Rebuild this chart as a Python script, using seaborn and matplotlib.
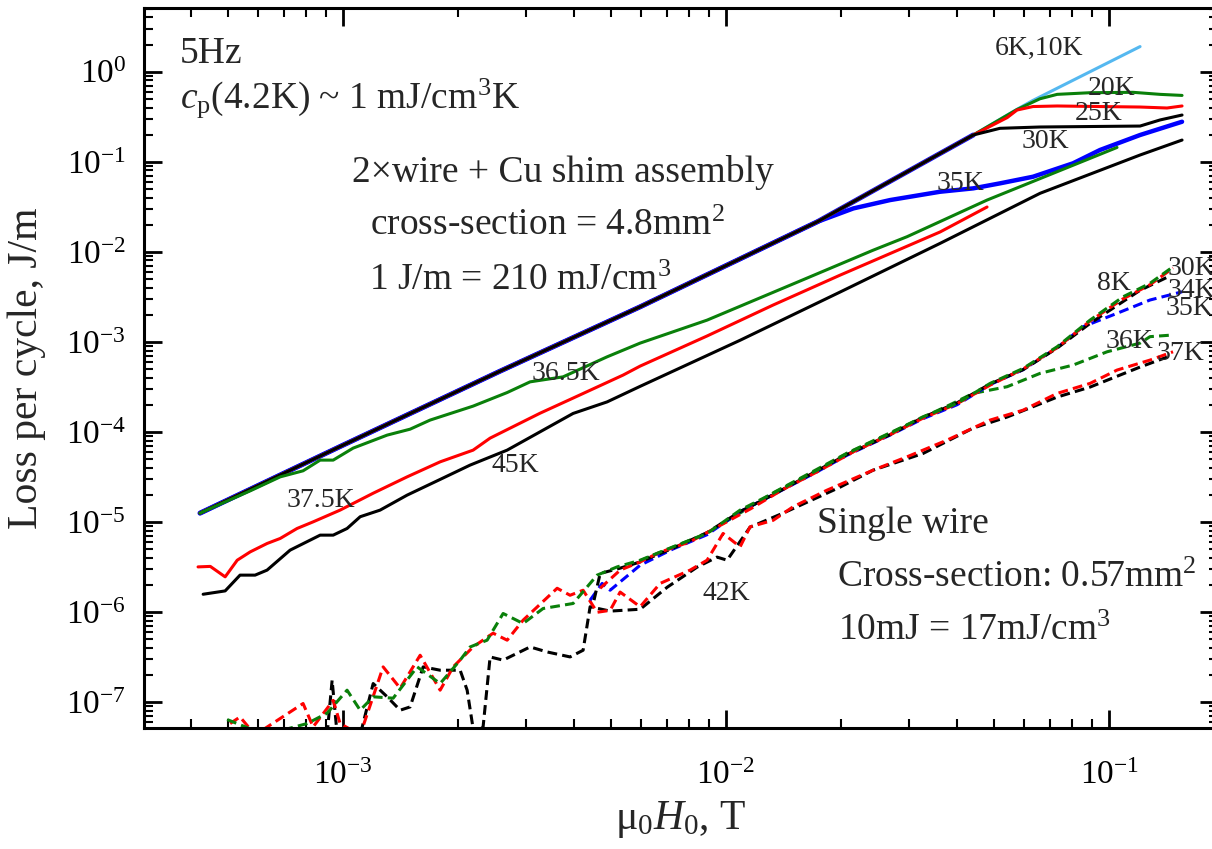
import matplotlib
matplotlib.use('Agg')
import matplotlib.pyplot as plt
import seaborn as sns
import numpy as np
from matplotlib.ticker import LogLocator, NullFormatter

# ---- data (x: mu0*H0 in T, y: loss per cycle in J/m) ----

# common initial branch shared by the low-temperature assembly curves
env_x = [4.23e-4, 1.0e-3, 2.57e-3, 5.97e-3, 1.73e-2, 4.42e-2]
env_y = [1.25e-5, 7.12e-5, 4.72e-4, 2.45e-3, 2.15e-2, 0.198]

# tails after leaving the common branch
k10_x = [5.75e-2, 6.33e-2, 0.1205]
k10_y = [0.382, 0.48, 1.90]
k20_x = [5.75e-2, 6.6e-2, 7.32e-2, 8.92e-2, 0.1155, 0.1359, 0.1551]
k20_y = [0.38, 0.50, 0.56, 0.584, 0.59, 0.56, 0.545]
k25_x = [5.42e-2, 5.75e-2, 6.33e-2, 7.32e-2, 9.47e-2, 0.1205, 0.1417, 0.1551]
k25_y = [0.309, 0.375, 0.41, 0.416, 0.41, 0.405, 0.395, 0.416]
k30_x = [5.19e-2, 6.6e-2, 0.1205, 0.1359, 0.1551]
k30_y = [0.235, 0.243, 0.249, 0.291, 0.330]
k35_x = [2.15e-2, 2.68e-2, 3.62e-2, 4.42e-2, 5.19e-2, 6.33e-2, 8.05e-2, 9.47e-2, 0.1205, 0.1551]
k35_y = [3.03e-2, 3.75e-2, 4.64e-2, 5.06e-2, 5.75e-2, 6.81e-2, 9.6e-2, 0.135, 0.198, 0.278]

k365_x = [4.23e-4, 5.72e-4, 6.85e-4, 7.86e-4, 8.71e-4, 9.42e-4, 1.062e-3, 1.303e-3, 1.496e-3,
          1.687e-3, 2.185e-3, 2.681e-3, 3.078e-3, 3.753e-3, 4.891e-3, 5.965e-3, 8.92e-3,
          1.627e-2, 2.42e-2, 2.969e-2, 4.802e-2, 0.1049]
k365_y = [1.25e-5, 2.21e-5, 3.16e-5, 3.69e-5, 4.85e-5, 4.85e-5, 6.59e-5, 9.19e-5, 1.07e-4,
          1.35e-4, 1.93e-4, 2.73e-4, 3.59e-4, 4.08e-4, 6.81e-4, 9.67e-4, 1.74e-3,
          5.1e-3, 1.04e-2, 1.47e-2, 3.75e-2, 0.144]

k375_x = [4.18e-4, 4.5e-4, 4.92e-4, 5.29e-4, 5.72e-4, 6.33e-4, 6.85e-4, 7.58e-4, 8.35e-4,
          9.82e-4, 1.198e-3, 1.469e-3, 1.792e-3, 2.185e-3, 2.42e-3, 3.268e-3, 3.986e-3,
          5.385e-3, 5.965e-3, 8.92e-3, 1.327e-2, 1.985e-2, 3.622e-2, 4.802e-2]
k375_y = [3.16e-6, 3.2e-6, 2.45e-6, 3.75e-6, 4.64e-6, 5.75e-6, 6.54e-6, 8.44e-6, 1.0e-5,
          1.35e-5, 2.08e-5, 3.16e-5, 4.64e-5, 6.26e-5, 8.51e-5, 1.61e-4, 2.37e-4,
          4.27e-4, 5.37e-4, 1.16e-3, 2.56e-3, 5.5e-3, 1.66e-2, 3.14e-2]

k45_x = [4.31e-4, 4.92e-4, 5.38e-4, 5.89e-4, 6.33e-4, 7.27e-4, 8.71e-4, 9.42e-4, 1.024e-3,
         1.108e-3, 1.249e-3, 1.469e-3, 1.792e-3, 2.146e-3, 2.681e-3, 3.268e-3, 3.986e-3,
         4.891e-3, 5.965e-3, 1.088e-2, 1.985e-2, 3.622e-2, 6.606e-2, 0.1205, 0.1551]
k45_y = [1.57e-6, 1.71e-6, 2.56e-6, 2.56e-6, 2.91e-6, 4.85e-6, 7.12e-6, 7.12e-6, 8.44e-6,
         1.14e-5, 1.35e-5, 1.98e-5, 2.96e-5, 4.27e-5, 6.26e-5, 1.0e-4, 1.6e-4,
         2.15e-4, 3.2e-4, 1.04e-3, 3.57e-3, 1.24e-2, 4.46e-2, 0.1187, 0.174]

# single wire (dashed)
w8_x = [4.98e-4, 6.26e-4, 8.05e-4, 9.08e-4, 1.024e-3, 1.108e-3, 1.198e-3, 1.351e-3, 1.561e-3,
        1.792e-3, 2.021e-3, 2.146e-3, 2.377e-3, 2.617e-3, 2.951e-3, 3.328e-3, 3.986e-3,
        4.605e-3, 5.194e-3, 5.965e-3, 7.27e-3, 8.92e-3, 1.088e-2, 1.327e-2, 1.729e-2,
        2.07e-2, 2.681e-2, 3.268e-2, 4.011e-2, 4.891e-2, 5.965e-2, 7.317e-2, 8.92e-2,
        0.1088, 0.1279, 0.1469]
w8_y = [6.37e-8, 4.3e-8, 5.75e-8, 7.49e-8, 1.35e-7, 8.09e-8, 1.14e-7, 1.1e-7, 2.45e-7,
        1.6e-7, 2.91e-7, 4.08e-7, 4.85e-7, 9.6e-7, 7.43e-7, 1.09e-6, 1.24e-6,
        2.56e-6, 3.16e-6, 3.75e-6, 5.28e-6, 7.43e-6, 1.35e-5, 2.08e-5, 3.75e-5,
        5.75e-5, 9.6e-5, 1.47e-4, 2.07e-4, 3.45e-4, 5.06e-4, 8.8e-4, 1.74e-3,
        3.16e-3, 4.46e-3, 6.81e-3]

w30_x = [4.69e-3, 5.289e-3, 5.965e-3, 6.72e-3, 8.05e-3, 9.82e-3, 1.16e-2, 1.41e-2, 1.73e-2,
         2.15e-2, 2.68e-2, 3.27e-2, 4.01e-2, 4.89e-2, 5.97e-2, 7.32e-2, 8.92e-2, 0.1088,
         0.1279, 0.1469]
w30_y = [1.83e-6, 2.91e-6, 3.59e-6, 4.6e-6, 6.0e-6, 9.5e-6, 1.4e-5, 2.3e-5, 3.6e-5,
         6.0e-5, 9.3e-5, 1.42e-4, 2.05e-4, 3.3e-4, 5.0e-4, 8.6e-4, 1.7e-3, 3.0e-3,
         4.3e-3, 6.6e-3]

w34_x = [4.52e-3, 4.69e-3, 5.289e-3, 5.965e-3, 7.27e-3, 8.92e-3, 1.088e-2, 1.327e-2, 1.729e-2,
         2.07e-2, 2.681e-2, 3.268e-2, 4.011e-2, 4.891e-2, 5.965e-2, 7.317e-2, 8.92e-2,
         0.1088, 0.1205, 0.1417]
w34_y = [1.35e-6, 2.67e-6, 3.06e-6, 3.59e-6, 5.1e-6, 7.6e-6, 1.3e-5, 2.0e-5, 3.7e-5,
         5.6e-5, 9.3e-5, 1.45e-4, 2.1e-4, 3.4e-4, 4.9e-4, 8.5e-4, 1.6e-3,
         2.8e-3, 3.73e-3, 5.2e-3]

w35_x = [4.415e-3, 4.746e-3, 4.98e-3, 5.965e-3, 7.27e-3, 8.92e-3, 1.088e-2, 1.327e-2, 1.729e-2,
         2.07e-2, 2.681e-2, 3.268e-2, 4.011e-2, 4.891e-2, 5.965e-2, 7.317e-2, 8.552e-2,
         0.1049, 0.1279, 0.1551]
w35_y = [1.35e-6, 2.07e-6, 1.74e-6, 3.3e-6, 5.0e-6, 7.2e-6, 1.3e-5, 2.0e-5, 3.6e-5,
         5.5e-5, 9.2e-5, 1.4e-4, 2.0e-4, 3.35e-4, 4.9e-4, 8.6e-4, 1.47e-3,
         2.07e-3, 2.91e-3, 3.59e-3]

w36_x = [5.965e-3, 8.92e-3, 1.327e-2, 2.07e-2, 3.268e-2, 3.845e-2, 4.415e-2, 5.418e-2,
         6.606e-2, 8.054e-2, 9.88e-2, 0.1205, 0.1279, 0.1469]
w36_y = [3.7e-6, 7.5e-6, 2.1e-5, 5.8e-5, 1.45e-4, 2.0e-4, 2.67e-4, 3.17e-4,
         4.46e-4, 5.51e-4, 7.74e-4, 9.67e-4, 1.14e-3, 1.19e-3]

w37_x = [5.07e-4, 5.38e-4, 5.89e-4, 7.86e-4, 8.35e-4, 9.42e-4, 9.82e-4, 1.108e-3, 1.272e-3,
         1.409e-3, 1.589e-3, 1.792e-3, 1.938e-3, 2.185e-3, 2.464e-3, 2.681e-3, 2.951e-3,
         3.621e-3, 3.914e-3, 4.233e-3, 4.605e-3, 4.98e-3, 5.289e-3, 5.965e-3, 6.724e-3,
         8.054e-3, 8.92e-3, 9.822e-3, 1.088e-2, 1.155e-2, 1.327e-2, 1.496e-2, 1.835e-2,
         2.42e-2, 2.969e-2, 3.776e-2, 4.891e-2, 5.965e-2, 7.317e-2, 8.92e-2, 0.1049,
         0.1279, 0.1469]
w37_y = [5.75e-8, 6.81e-8, 4.3e-8, 9.6e-8, 5.28e-8, 1.04e-7, 5.75e-8, 4.3e-8, 2.45e-7,
         1.42e-7, 3.3e-7, 1.35e-7, 2.45e-7, 4.08e-7, 5.8e-7, 4.85e-7, 8.09e-7,
         1.83e-6, 1.53e-6, 1.74e-6, 9.9e-7, 1.04e-6, 1.66e-6, 1.14e-6, 2.07e-6,
         2.91e-6, 3.75e-6, 7.43e-6, 5.28e-6, 8.8e-6, 1.04e-5, 1.47e-5, 2.25e-5,
         3.75e-5, 5.28e-5, 8.09e-5, 1.35e-4, 1.74e-4, 2.67e-4, 3.45e-4, 4.85e-4,
         6.26e-4, 7.74e-4]

w42_x = [9.08e-4, 9.36e-4, 9.65e-4, 1.108e-3, 1.198e-3, 1.303e-3, 1.409e-3, 1.496e-3, 1.618e-3,
         1.792e-3, 2.021e-3, 2.108e-3, 2.198e-3, 2.32e-3, 2.42e-3, 2.617e-3, 3.078e-3,
         3.409e-3, 3.914e-3, 4.233e-3, 4.415e-3, 4.98e-3, 5.965e-3, 7.02e-3, 8.4e-3,
         9.47e-3, 1.006e-2, 1.155e-2, 1.409e-2, 1.985e-2, 2.42e-2, 3.268e-2, 4.415e-2,
         5.418e-2, 7.317e-2, 8.92e-2, 0.1205, 0.1417]
w42_y = [4.3e-8, 1.74e-7, 4.3e-8, 4.3e-8, 1.6e-7, 1.14e-7, 8.09e-8, 8.8e-8, 2.45e-7,
         2.25e-7, 2.25e-7, 1.35e-7, 4.3e-8, 5.28e-8, 3.16e-7, 2.91e-7, 4.08e-7,
         3.59e-7, 3.16e-7, 3.75e-7, 1.14e-6, 1.02e-6, 1.07e-6, 1.88e-6, 3.14e-6,
         4.06e-6, 3.75e-6, 8.73e-6, 1.25e-5, 2.43e-5, 3.75e-5, 5.75e-5, 1.1e-4,
         1.46e-4, 2.43e-4, 3.14e-4, 5.24e-4, 6.76e-4]

# ---- style ----
sns.set_theme(style='ticks')
plt.rcParams['font.family'] = ['Liberation Serif', 'DejaVu Serif']
plt.rcParams['mathtext.fontset'] = 'custom'
plt.rcParams['mathtext.rm'] = 'Liberation Serif'
plt.rcParams['mathtext.it'] = 'Liberation Serif:italic'
plt.rcParams['mathtext.bf'] = 'Liberation Serif:bold'

BLUE = '#0000ff'
LBLUE = '#55b8f0'
GREEN = '#0a800a'
RED = '#ff0000'
BLACK = '#000000'
DASH = (0, (3.2, 1.7))

fig = plt.figure(figsize=(12.12, 8.49), dpi=100)
# right spine sits just past the picture edge, as in the original
ax = fig.add_axes([0.1188, 0.1425, 0.8862, 0.8481])
ax.set_xscale('log')
ax.set_yscale('log')


def line(x, y, color, lw=2.2, ls='-'):
    sns.lineplot(x=x, y=y, ax=ax, color=color, linewidth=lw, linestyle=ls,
                 estimator=None, sort=False)


# assembly (solid)
line(env_x[:5] + k35_x, env_y[:5] + k35_y, BLUE, lw=3.2)
line(env_x, env_y, BLUE, lw=3.6)
line(env_x + k10_x, env_y + k10_y, LBLUE)
line(env_x + k20_x, env_y + k20_y, GREEN)
line(env_x + k25_x, env_y + k25_y, RED)
line(env_x + k30_x, env_y + k30_y, BLACK, lw=2.2)
line(k365_x, k365_y, GREEN)
line(k375_x, k375_y, RED)
line(k45_x, k45_y, BLACK)

# single wire (dashed)
line(w42_x, w42_y, BLACK, ls=DASH)
line(w37_x, w37_y, RED, ls=DASH)
line(w36_x, w36_y, GREEN, ls=DASH)
line(w35_x, w35_y, BLUE, ls=DASH)
line(w34_x, w34_y, BLACK, ls=DASH)
line(w30_x, w30_y, RED, ls=DASH)
line(w8_x, w8_y, GREEN, ls=DASH)

ax.set_xlim(3.02e-4, 0.1926)
ax.set_ylim(5.13e-8, 5.1)

ax.xaxis.set_major_locator(LogLocator(base=10, numticks=100))
ax.yaxis.set_major_locator(LogLocator(base=10, numticks=100))
ax.xaxis.set_minor_locator(LogLocator(base=10, subs=np.arange(2, 10), numticks=100))
ax.yaxis.set_minor_locator(LogLocator(base=10, subs=np.arange(2, 10), numticks=100))
ax.xaxis.set_minor_formatter(NullFormatter())
ax.yaxis.set_minor_formatter(NullFormatter())
ax.tick_params(which='both', direction='in', top=True, right=True, colors='black')
ax.tick_params(which='major', length=13, width=2.0, labelsize=24)
ax.tick_params(which='minor', length=6.5, width=1.5)
ax.tick_params(axis='x', which='major', pad=23)
ax.tick_params(axis='y', which='major', pad=13)
for s in ax.spines.values():
    s.set_linewidth(2.2)
    s.set_color('black')

ax.set_xlabel(r'$\mathrm{\mu}_0H_0$, T', fontsize=30, labelpad=6)
ax.set_ylabel('Loss per cycle, J/m', fontsize=30, labelpad=14)

# ---- text blocks ----
big = 27
tr = ax.transAxes
# positions below are given as fractions of the original plot frame (1212 px wide)
fx = 1068 / 1074.0
ax.text(0.0337 * fx, 0.9236, '5Hz', transform=tr, fontsize=big)
ax.text(0.0337 * fx, 0.8611, r'$c_{\mathrm{p}}$(4.2K) ~ 1 mJ/cm$^3$K', transform=tr, fontsize=big)
ax.text(0.1948 * fx, 0.7583, '2×wire + Cu shim assembly', transform=tr, fontsize=big)
ax.text(0.2116 * fx, 0.6847, r'cross-section = 4.8mm$^2$', transform=tr, fontsize=big)
ax.text(0.2110 * fx, 0.6083, r'1 J/m = 210 mJ/cm$^3$', transform=tr, fontsize=big)
ax.text(0.6301 * fx, 0.2708, 'Single wire', transform=tr, fontsize=big)
ax.text(0.6489 * fx, 0.1958, r'Cross-section: 0.57mm$^2$', transform=tr, fontsize=big)
ax.text(0.6498 * fx, 0.1222, r'10mJ = 17mJ/cm$^3$', transform=tr, fontsize=big)

# curve labels
lab = 20
curve_labels = [
    ('6K,10K', 0.7968, 0.9347), ('20K', 0.8839, 0.8792), ('25K', 0.8717, 0.8444),
    ('30K', 0.8221, 0.8056), ('35K', 0.7425, 0.7472), ('36.5K', 0.3633, 0.4833),
    ('37.5K', 0.1339, 0.3069), ('45K', 0.3258, 0.3556), ('8K', 0.8923, 0.6083),
    ('30K', 0.9579, 0.6292), ('34K', 0.9579, 0.5986), ('35K', 0.9560, 0.5736),
    ('36K', 0.9007, 0.5278), ('37K', 0.9485, 0.5111), ('42K', 0.5225, 0.1778),
]
for t, x, y in curve_labels:
    ax.text(x * fx, y, t, transform=tr, fontsize=lab, clip_on=False)

fig.savefig('out.png', dpi=100)
